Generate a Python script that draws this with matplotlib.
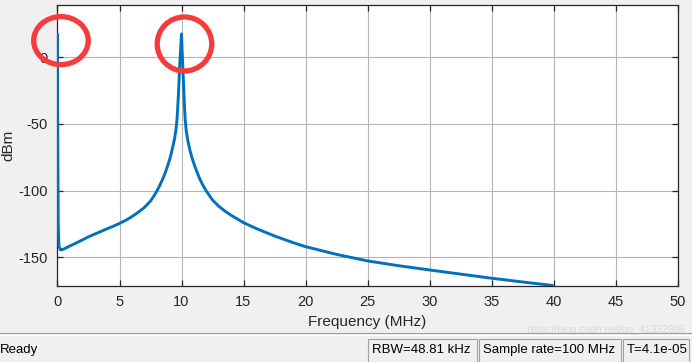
import matplotlib
matplotlib.use("Agg")
import matplotlib.pyplot as plt
from matplotlib.patches import Ellipse, Rectangle
from matplotlib.lines import Line2D

# ---- data ----
freq_mhz = [0, 0.02, 0.06, 0.12, 0.25, 0.5, 1.0, 1.5, 2.0, 2.5, 3.0, 3.5, 4.0,
            4.5, 5.0, 5.5, 6.0, 6.5, 7.0, 7.5, 7.75, 8.0, 8.25, 8.5, 8.75, 9.0,
            9.15, 9.3, 9.45, 9.56, 9.65, 9.74, 9.8, 9.86, 9.93, 10.0,
            10.06, 10.12, 10.18, 10.24, 10.3, 10.38, 10.5, 10.65, 10.85, 11.1,
            11.44, 11.7, 11.98, 12.5, 13.0, 13.5, 14.0, 15.0, 16.0, 17.5,
            19.0, 20.0, 22.5, 25.0, 27.5, 30.0, 32.5, 35.0, 37.5, 40.0]
power_dbm = [18, -60, -125, -142, -144.5, -143.8, -141.5, -139.3, -137, -134.6,
             -132.6, -130.6, -128.6, -126.7, -124.6, -122.3, -119.5, -116.3,
             -112.7, -107.8, -104.4, -100.5, -96, -91, -85, -78,
             -73, -67, -60.5, -54, -45, -30, -18, -5, 6, 17.5,
             3, -10, -24, -37, -47, -55, -62, -68.5, -75.5, -82.5,
             -90.5, -95.5, -100, -107, -111.7, -115.3, -118.5, -124, -128.3, -134,
             -139, -142, -147.8, -152.7, -156.3, -159.5, -162.6, -165.7, -168.5, -171.2]
x_ticks = [0, 5, 10, 15, 20, 25, 30, 35, 40, 45, 50]
y_ticks = [-150, -100, -50, 0]
status_texts = ["RBW=48.81 kHz", "Sample rate=100 MHz", "T=4.1e-05"]

plt.rcParams['font.family'] = ['Liberation Sans', 'DejaVu Sans']

W, H = 692, 362
fig = plt.figure(figsize=(W / 100, H / 100), dpi=100, facecolor='#F0F0F0')
ax = fig.add_axes([57.5 / W, 1 - 285.7 / H, 620 / W, (285.7 - 5.3) / H])
ax.set_facecolor('white')

ax.plot(freq_mhz, power_dbm, color='#0072BD', lw=2.1, solid_joinstyle='round',
        solid_capstyle='butt', zorder=3)

ax.set_xlim(0, 50)
ax.set_ylim(-171.3, 39)
ax.set_xticks(x_ticks)
ax.set_yticks(y_ticks)
ax.set_xticklabels([str(t) for t in x_ticks])
ax.set_yticklabels([str(t) for t in y_ticks])
ax.grid(True, color='#B4B4B4', lw=0.8)
ax.set_axisbelow(True)
ax.tick_params(direction='in', length=4, width=0.9, top=True, right=True,
               labelsize=10.5, colors='#262626', pad=7)
for s in ax.spines.values():
    s.set_color('#262626')
    s.set_linewidth(0.9)
ax.set_xlabel('Frequency (MHz)', fontsize=11, color='#262626', labelpad=4)
ax.set_ylabel('dBm', fontsize=11, color='#262626', labelpad=2)

# red hand-drawn circles around the two peaks
i_dc = 0
i_pk = power_dbm.index(max(power_dbm[1:]))
e1 = Ellipse((freq_mhz[i_dc] + 0.28, power_dbm[i_dc] - 5.5), 4.4, 36,
             fill=False, ec='#F53B3B', lw=3.8, clip_on=False, zorder=5)
e2 = Ellipse((freq_mhz[i_pk] + 0.24, power_dbm[i_pk] - 7.5), 4.4, 40.5,
             fill=False, ec='#F53B3B', lw=3.8, clip_on=False, zorder=5)
ax.add_patch(e1)
ax.add_patch(e2)

# status bar
fig.add_artist(Line2D([0, 1], [1 - 333 / H] * 2, transform=fig.transFigure,
                      color='#A0A0A0', lw=0.8))
fig.add_artist(Line2D([0, 1], [1 - 334.5 / H] * 2, transform=fig.transFigure,
                      color='#FFFFFF', lw=0.8))
fig.text(0 / W, 1 - 350 / H, 'Ready', fontsize=9.5, va='center', ha='left', color='#000000')
edges = [368, 479, 623, 691]
for j, txt in enumerate(status_texts):
    x0, x1 = edges[j], edges[j + 1]
    fig.add_artist(Rectangle((x0 / W, 0), (x1 - x0 - 2) / W, (362 - 339) / H,
                             transform=fig.transFigure, fill=False, ec='#A0A0A0', lw=0.8))
    fig.text((x0 + 4) / W, 1 - 350 / H, txt, fontsize=9.5, va='center', ha='left', color='#000000')
# faint watermark, kept just above the status panes
fig.text(686 / W, 1 - 330 / H, 'https://blog.csdn.net/qq_41332806', fontsize=7.5,
         va='center', ha='right', color='#DADADA', zorder=0)

fig.savefig('out.png', dpi=100, facecolor=fig.get_facecolor())
